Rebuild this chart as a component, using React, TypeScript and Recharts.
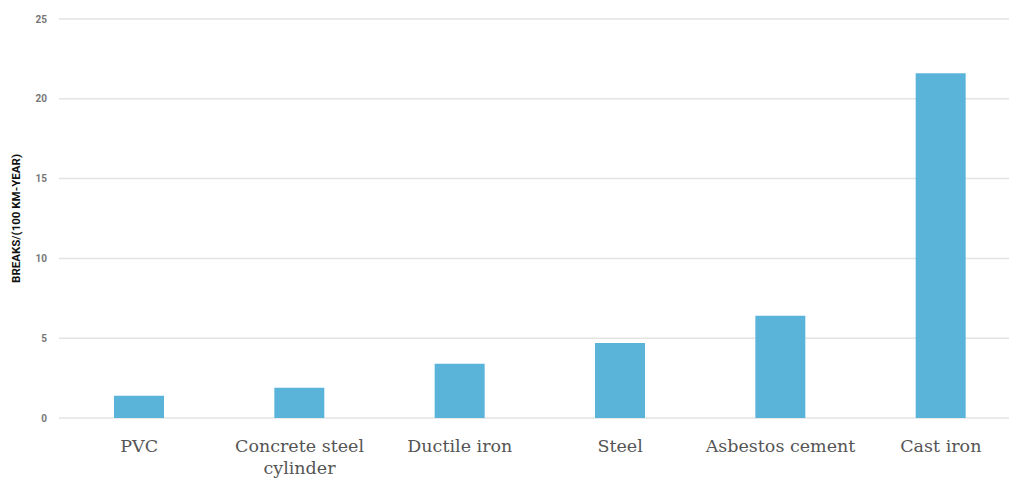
import React from "react";
import { BarChart, Bar, XAxis, YAxis, CartesianGrid } from "recharts";

const categories = ["PVC", "Concrete steel\ncylinder", "Ductile iron", "Steel", "Asbestos cement", "Cast iron"];
const breaks = [1.4, 1.9, 3.4, 4.7, 6.4, 21.6];
const yTicks = [0, 5, 10, 15, 20, 25];

const data = categories.map((c, i) => ({ name: c, value: breaks[i] }));

const XTick = (props: any) => {
  const { x, y, payload } = props;
  const lines = String(payload.value).split("\n");
  return (
    <text
      x={x}
      y={y}
      textAnchor="middle"
      fill="#555"
      fontSize={17.5}
      fontFamily="'DejaVu Serif', serif"
    >
      {lines.map((l, i) => (
        <tspan key={i} x={x} dy={i === 0 ? 26 : 22}>
          {l}
        </tspan>
      ))}
    </text>
  );
};

export default function App() {
  return (
    <div style={{ position: "absolute", left: 0, top: 0, width: 1009, height: 482, overflow: "hidden", background: "#fff" }}>
      <BarChart
        width={1021}
        height={482}
        data={data}
        margin={{ top: 19, right: 0, bottom: 0, left: 0 }}
        barCategoryGap={0}
      >
        <CartesianGrid vertical={false} stroke="#e3e3e3" strokeWidth={1.5} />
        <XAxis
          dataKey="name"
          axisLine={false}
          tickLine={false}
          tick={<XTick />}
          interval={0}
          height={64}
        />
        <YAxis
          domain={[0, 25]}
          ticks={yTicks}
          width={59}
          axisLine={false}
          tickLine={false}
          tickSize={10}
          tickMargin={2}
          tick={{ fill: "#777", fontSize: 10, fontWeight: 700, fontFamily: "Roboto, sans-serif" }}
          label={{
            value: "BREAKS/(100 KM-YEAR)",
            angle: -90,
            position: "insideLeft",
            offset: 16,
            style: { textAnchor: "middle", fill: "#111", fontSize: 11.5, fontWeight: 700, fontFamily: "Roboto, sans-serif" },
          }}
        />
        <Bar dataKey="value" fill="#5ab4da" barSize={50} isAnimationActive={false} />
      </BarChart>
    </div>
  );
}
